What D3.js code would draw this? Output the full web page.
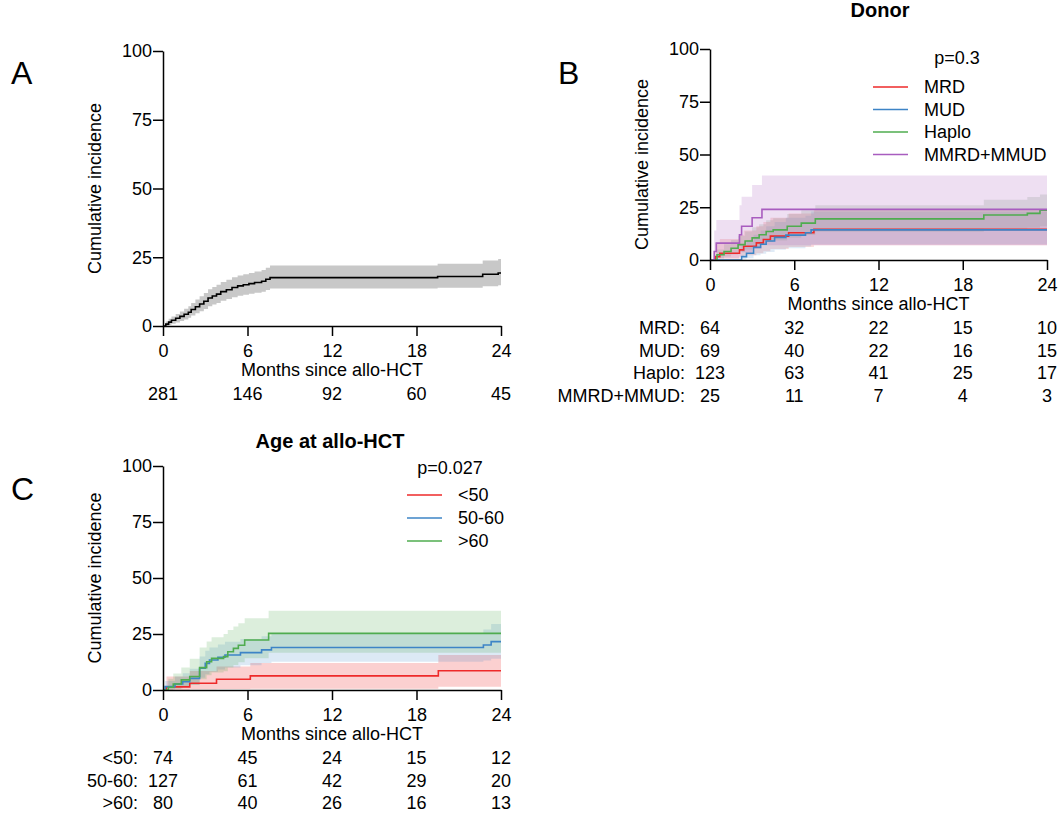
<!DOCTYPE html>
<meta charset="utf-8">
<style>
	body { margin: 0; background: #fff; }
	text { font-family: "Liberation Sans", Arial, sans-serif; fill: #000; }
	.axis path, .axis line { stroke: #000; stroke-width: 1.5px; }
	.axis text { font-size: 18px; }
</style>
<body>
<script src="https://d3js.org/d3.v7.min.js"></script>
<script>
// shared ticks
var monthTicks = [0, 6, 12, 18, 24];
var pctTicks = [0, 25, 50, 75, 100];

// steps are [month, incidence, lower CI, upper CI]
// panel A - all patients
var allSteps = [
	[0, 0, 0, 0], [0.2, 0.7, 0.1, 1.6], [0.4, 1.4, 0.4, 2.6], [0.6, 2.1, 0.8, 3.5],
	[0.9, 2.8, 1.3, 4.4], [1.2, 3.5, 1.8, 5.3], [1.5, 4.3, 2.4, 6.3], [1.8, 5.0, 3.0, 7.2],
	[2.0, 6.0, 3.8, 8.4], [2.3, 7.0, 4.6, 9.6], [2.6, 8.0, 5.4, 10.8], [2.9, 9.0, 6.2, 12.0],
	[3.2, 10.2, 7.2, 13.4], [3.5, 10.9, 7.8, 14.2], [3.8, 11.6, 8.4, 15.0], [4.1, 12.5, 9.2, 16.0],
	[4.5, 13.2, 9.8, 16.8], [4.9, 14.0, 10.5, 17.7], [5.3, 14.6, 11.0, 18.4], [5.7, 15.0, 11.4, 18.8],
	[6.1, 15.4, 11.7, 19.3], [6.5, 15.8, 12.1, 19.8], [7.0, 16.3, 12.5, 20.4], [7.3, 17.0, 13.1, 21.2],
	[7.6, 17.6, 13.6, 22.0], [19.5, 18.0, 13.9, 22.6], [22.7, 18.8, 14.5, 23.8], [23.8, 19.3, 14.8, 24.4]
];
var allRisk = [281, 146, 92, 60, 45];

// panel B - donor
var donorGroups = ["MRD", "MUD", "Haplo", "MMRD+MMUD"];
var mrdSteps = [
	[0, 0, 0, 0], [0.4, 1.6, 0.2, 8], [0.7, 3.2, 0.6, 10], [2.1, 4.8, 1.4, 12], [2.4, 6.5, 2.2, 14],
	[3.3, 8.1, 3.2, 16], [3.8, 9.7, 4.2, 18], [4.3, 11.3, 5.2, 20], [5.6, 12.9, 6.2, 22], [7.4, 14.5, 7.0, 24]
];
var mudSteps = [
	[0, 0, 0, 0], [2.25, 1.6, 0.2, 7], [2.6, 3.2, 0.8, 9], [3.1, 6.0, 2.2, 12], [3.6, 7.5, 3.0, 14],
	[4.0, 9.0, 3.8, 16], [4.6, 10.7, 4.8, 18], [5.4, 11.8, 5.6, 20], [6.8, 12.9, 6.4, 21], [7.2, 14.3, 7.4, 23]
];
var haploSteps = [
	[0, 0, 0, 0], [0.5, 2.5, 0.7, 5], [1.0, 4.0, 1.6, 7.5], [1.5, 5.6, 2.6, 9.5], [2.0, 7.3, 3.8, 11.5],
	[2.5, 9.0, 5.0, 13.5], [3.0, 10.5, 6.2, 15.5], [3.5, 12.0, 7.4, 17], [4.0, 13.5, 8.5, 18.8],
	[4.5, 14.3, 9.2, 19.8], [5.5, 16.0, 10.6, 21.8], [6.5, 17.5, 11.8, 23.6], [7.5, 19.5, 13.4, 26],
	[19.5, 21.3, 14.8, 28.5], [22.6, 22.1, 15.3, 29.8], [23.5, 23.6, 16.0, 31]
];
var mmSteps = [
	[0, 0, 0, 0], [0.3, 4, 0.3, 14], [0.45, 8, 0.8, 19], [2.1, 12, 2, 26], [2.25, 16, 3.5, 30],
	[3.0, 20, 5.5, 35.5], [3.7, 24, 7, 40]
];
var mrdRisk = [64, 32, 22, 15, 10];
var mudRisk = [69, 40, 22, 16, 15];
var haploRisk = [123, 63, 41, 25, 17];
var mmRisk = [25, 11, 7, 4, 3];

// panel C - age
var ageGroups = ["<50", "50-60", ">60"];
var under50Steps = [
	[0, 0, 0, 0], [0.25, 1.4, 0, 6], [1.9, 3.0, 0.3, 8.5], [3.8, 4.8, 0.5, 10.5],
	[6.2, 6.3, 0.6, 12], [19.55, 8.6, 1.4, 15.6]
];
var mid5060Steps = [
	[0, 0, 0, 0], [0.15, 1.5, 0.2, 4], [0.85, 2.7, 0.8, 6], [1.4, 3.7, 1.4, 7.5], [1.9, 5.2, 2.3, 9.5],
	[2.6, 9.7, 5.5, 15], [3.0, 11.9, 7.0, 17.5], [3.3, 13.4, 8.2, 19], [3.9, 14.6, 9.2, 20.3],
	[4.4, 15.6, 10.0, 21.5], [5.5, 16.7, 11.0, 22.8], [7.0, 17.9, 12.0, 24], [7.7, 19.0, 12.6, 25.5],
	[22.75, 20.1, 13.2, 27], [23.3, 21.6, 14.0, 29.5]
];
var over60Steps = [
	[0, 0, 0, 0], [0.38, 1.2, 0, 5], [0.73, 2.7, 0.4, 7.4], [1.3, 4.5, 1.3, 10], [1.9, 6, 2.2, 14],
	[2.6, 10, 4.8, 19], [3.1, 12.6, 6.6, 21.6], [3.45, 14.1, 7.8, 23.5], [4.3, 14.9, 8.4, 25],
	[4.6, 17.1, 10.0, 26.8], [5.0, 18.6, 11.2, 28.3], [5.35, 20, 12.4, 29.8], [5.8, 22.3, 14.2, 32],
	[7.5, 25.3, 16.6, 35.4]
];
var under50Risk = [74, 45, 24, 15, 12];
var mid5060Risk = [127, 61, 42, 29, 20];
var over60Risk = [80, 40, 26, 16, 13];

var W = 1061, H = 815;
var svg = d3.select("body").append("svg")
	.attr("width", W)
	.attr("height", H);

// draw one cumulative incidence panel
function panel(p) {
	var x = d3.scaleLinear().domain([0, 24]).range([p.x0, p.x1]);
	var y = d3.scaleLinear().domain([0, 100]).range([p.y0, p.y1]);
	var g = svg.append("g");

	// extend every curve to 24 months
	var full = function(s) { return s.concat([[24, s[s.length - 1][1], s[s.length - 1][2], s[s.length - 1][3]]]); };

	var area = d3.area().curve(d3.curveStepAfter)
		.x(function(d) { return x(d[0]); })
		.y0(function(d) { return y(d[2]); })
		.y1(function(d) { return y(d[3]); });
	var line = d3.line().curve(d3.curveStepAfter)
		.x(function(d) { return x(d[0]); })
		.y(function(d) { return y(d[1]); });

	p.series.forEach(function(s) {
		g.append("path").attr("d", area(full(s.steps)))
			.attr("fill", s.band).attr("fill-opacity", s.bandOpacity);
	});
	p.series.forEach(function(s) {
		g.append("path").attr("d", line(full(s.steps)))
			.attr("fill", "none").attr("stroke", s.color).attr("stroke-width", 1.6);
	});

	// axes
	g.append("g").attr("class", "axis")
		.attr("transform", "translate(" + p.x0 + ",0)")
		.call(d3.axisLeft(y).tickValues(pctTicks).tickSize(10).tickSizeOuter(0).tickPadding(1));
	g.append("g").attr("class", "axis")
		.attr("transform", "translate(0," + p.y0 + ")")
		.call(d3.axisBottom(x).tickValues(monthTicks).tickSize(10).tickSizeOuter(0).tickPadding(8));

	g.append("text")
		.attr("transform", "translate(" + (p.x0 - 68) + "," + ((p.y0 + p.y1) / 2 + p.yTitleShift) + ") rotate(-90)")
		.attr("text-anchor", "middle")
		.attr("dy", "0.35em")
		.style("font-size", "18px")
		.text("Cumulative incidence");

	g.append("text")
		.attr("x", (p.x0 + p.x1) / 2)
		.attr("y", p.y0 + 50)
		.attr("text-anchor", "middle")
		.style("font-size", "18px")
		.text("Months since allo-HCT");

	// number at risk table
	p.risk.forEach(function(r, i) {
		var ry = p.y0 + 68 + i * 22.5;
		if (r.label) {
			g.append("text").attr("x", p.x0 - 25).attr("y", ry)
				.attr("text-anchor", "end").attr("dy", "0.35em")
				.style("font-size", "18px").text(r.label + ":");
		}
		g.selectAll(null).data(r.values).enter().append("text")
			.attr("x", function(d, j) { return x(monthTicks[j]); })
			.attr("y", ry)
			.attr("text-anchor", "middle").attr("dy", "0.35em")
			.style("font-size", "18px")
			.text(function(d) { return d; });
	});

	// panel letter
	g.append("text").attr("x", p.letterX).attr("y", p.letterY)
		.style("font-size", "32px").text(p.letter);

	if (p.title) {
		g.append("text").attr("x", p.titleX).attr("y", p.titleY)
			.attr("text-anchor", "middle")
			.style("font-size", "20px").style("font-weight", "bold")
			.text(p.title);
	}

	if (p.legend) {
		var L = p.legend;
		g.append("text").attr("x", L.pX).attr("y", L.pY)
			.attr("text-anchor", "middle").attr("dy", "0.35em")
			.style("font-size", "18px").text(L.pText);
		p.series.forEach(function(s, i) {
			var ly = L.y + i * L.step;
			g.append("line").attr("x1", L.x).attr("x2", L.x + 35)
				.attr("y1", ly).attr("y2", ly)
				.attr("stroke", s.color).attr("stroke-width", 1.5);
			g.append("text").attr("x", L.x + 51).attr("y", ly)
				.attr("dy", "0.35em").style("font-size", "18px").text(s.name);
		});
	}
}

var red = "#ee2a2a", blue = "#3d84c6", green = "#4fac4f", purple = "#a85dbf";

panel({
	x0: 163, x1: 501, y0: 326, y1: 51, yTitleShift: 0,
	letter: "A", letterX: 11, letterY: 84,
	series: [{ name: "All", steps: allSteps, color: "#000", band: "#c8c8c8", bandOpacity: 1 }],
	risk: [{ label: null, values: allRisk }]
});

panel({
	x0: 710, x1: 1047, y0: 260, y1: 49, yTitleShift: 10,
	letter: "B", letterX: 558, letterY: 84,
	title: "Donor", titleX: 880, titleY: 17,
	series: [
		{ name: donorGroups[0], steps: mrdSteps, color: red, band: red, bandOpacity: 0.16 },
		{ name: donorGroups[1], steps: mudSteps, color: blue, band: blue, bandOpacity: 0.16 },
		{ name: donorGroups[2], steps: haploSteps, color: green, band: "#7f9f7f", bandOpacity: 0.22 },
		{ name: donorGroups[3], steps: mmSteps, color: purple, band: purple, bandOpacity: 0.2 }
	],
	risk: [
		{ label: donorGroups[0], values: mrdRisk },
		{ label: donorGroups[1], values: mudRisk },
		{ label: donorGroups[2], values: haploRisk },
		{ label: donorGroups[3], values: mmRisk }
	],
	legend: { pText: "p=0.3", pX: 957, pY: 58, x: 873, y: 87, step: 22.5 }
});

panel({
	x0: 163, x1: 501, y0: 690, y1: 466, yTitleShift: 0,
	letter: "C", letterX: 11, letterY: 500,
	title: "Age at allo-HCT", titleX: 330, titleY: 448,
	series: [
		{ name: ageGroups[0], steps: under50Steps, color: red, band: red, bandOpacity: 0.22 },
		{ name: ageGroups[1], steps: mid5060Steps, color: blue, band: blue, bandOpacity: 0.18 },
		{ name: ageGroups[2], steps: over60Steps, color: green, band: green, bandOpacity: 0.2 }
	],
	risk: [
		{ label: ageGroups[0], values: under50Risk },
		{ label: ageGroups[1], values: mid5060Risk },
		{ label: ageGroups[2], values: over60Risk }
	],
	legend: { pText: "p=0.027", pX: 450, pY: 468, x: 407, y: 495, step: 23 }
});
</script>
</body>
